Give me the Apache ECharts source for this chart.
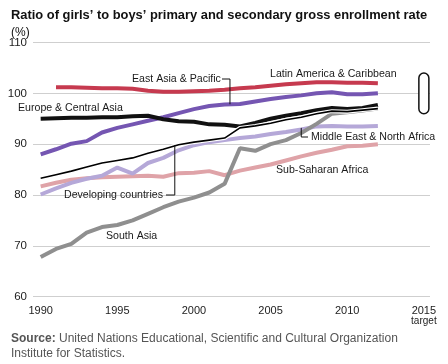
<!DOCTYPE html>
<html>
<head>
<meta charset="utf-8">
<script src="https://cdn.jsdelivr.net/npm/echarts@6/dist/echarts.min.js"></script>
<style>
html,body{margin:0;padding:0;background:#fff;}
#chart{width:448px;height:364px;}
</style>
</head>
<body>
<div id="chart"></div>
<script>
const years = [1990,1991,1992,1993,1994,1995,1996,1997,1998,1999,2000,2001,2002,2003,2004,2005,2006,2007,2008,2009,2010,2011,2012];
const latinAmerica = [null,101.2,101.2,101.1,101.0,101.0,100.9,100.5,100.3,100.3,100.4,100.5,100.7,101.0,101.2,101.5,101.8,102.0,102.2,102.2,102.1,102.1,102.0];
const eastAsia = [88.0,89.0,90.1,90.6,92.3,93.2,93.9,94.6,95.3,96.1,96.9,97.5,97.8,97.9,98.4,98.9,99.3,99.6,100.0,100.2,99.8,99.8,100.0];
const europe = [95.0,95.1,95.2,95.2,95.3,95.3,95.5,95.6,94.9,94.5,94.4,93.9,93.8,93.5,94.2,95.0,95.6,96.1,96.7,97.1,96.9,97.1,97.7];
const developing = [83.3,84.0,84.7,85.5,86.3,86.8,87.3,88.2,89.0,89.9,90.4,90.8,91.2,93.2,93.6,94.1,94.8,95.3,96.0,96.5,96.4,96.7,97.0];
const mena = [80.1,81.3,82.4,83.2,83.8,85.4,84.2,86.3,87.3,88.8,89.8,90.4,90.8,91.2,91.5,92.0,92.4,92.9,93.5,93.6,93.5,93.5,93.6];
const subSaharan = [81.7,82.4,83.0,83.3,83.5,83.6,83.7,83.8,83.6,84.3,84.4,84.7,83.9,84.8,85.4,86.0,86.8,87.6,88.3,88.9,89.6,89.7,90.0];
const southAsia = [67.8,69.4,70.4,72.6,73.7,74.1,75.0,76.3,77.6,78.7,79.5,80.5,82.2,89.2,88.7,90.0,90.8,92.2,94.0,96.0,96.3,96.6,97.0];
const xTicks = [1990,1995,2000,2005,2010,2015];
const yTicks = [60,70,80,90,100,110];
const targetYear = 2015;
const targetRange = [96, 104];

const pairs = arr => years.map((y,i) => [y, arr[i]]);
const chart = echarts.init(document.getElementById('chart'), null, {renderer:'canvas'});
const SANS = '"Liberation Sans", Arial, sans-serif';

function thick(name, data, color, z){
  return {name, type:'line', data:pairs(data), showSymbol:false, symbol:'none', connectNulls:false,
    lineStyle:{width:4, color}, itemStyle:{color}, z, animation:false};
}

const option = {
  animation:false,
  backgroundColor:'#fff',
  title:[
    {text:"Ratio of girls’ to boys’ primary and secondary gross enrollment rate", left:6, top:4,
      textStyle:{fontFamily:SANS, fontWeight:'bold', fontSize:12.9, color:'#111'}},
    {text:"(%)", left:6, top:22, textStyle:{fontFamily:SANS, fontWeight:'normal', fontSize:12, color:'#111'}},
    {text:"{b|Source:} United Nations Educational, Scientific and Cultural Organization\nInstitute for Statistics.",
      left:6, top:326, textStyle:{fontFamily:SANS, fontWeight:'normal', fontSize:12, color:'#555', lineHeight:15,
        rich:{b:{fontFamily:SANS, fontWeight:'bold', fontSize:12, color:'#555'}}}}
  ],
  grid:{left:33, right:18, top:42.5, bottom:67.3},
  xAxis:{type:'value', min:1989.5, max:2015.4,
    axisLine:{show:false}, axisTick:{show:false}, splitLine:{show:false},
    axisLabel:{customValues:xTicks, margin:9, fontFamily:SANS, fontSize:11, color:'#222', lineHeight:11,
      formatter: v => v === 2015 ? '2015\n{t|target}' : String(v),
      rich:{t:{fontFamily:SANS, fontSize:10, color:'#222', lineHeight:10}}}},
  yAxis:{type:'value', min:60, max:110, interval:10,
    axisLine:{show:false}, axisTick:{show:false},
    splitLine:{lineStyle:{color:'#cfcfcf', width:1}},
    axisLabel:{margin:6, fontFamily:SANS, fontSize:11.5, color:'#222',
      formatter: v => yTicks.includes(v) ? String(v) : ''}},
  series:[
    thick('Sub-Saharan Africa', subSaharan, '#dfa3a8', 2),
    thick('Middle East & North Africa', mena, '#b5a8d8', 3),
    thick('South Asia', southAsia, '#8f8f8f', 4),
    thick('Latin America & Caribbean', latinAmerica, '#c63a4f', 5),
    thick('East Asia & Pacific', eastAsia, '#7556b2', 6),
    thick('Europe & Central Asia', europe, '#111111', 7),
    {name:'dev-casing', type:'line', data:pairs(developing), showSymbol:false, symbol:'none',
      lineStyle:{width:4, color:'#ffffff'}, z:8, silent:true},
    {name:'Developing countries', type:'line', data:pairs(developing), showSymbol:false, symbol:'none',
      lineStyle:{width:1.6, color:'#000'}, z:9},
    {name:'target', type:'custom', clip:false, z:10,
      data:[[targetYear, targetRange[0], targetRange[1]]],
      renderItem:(params, api) => {
        const top = api.coord([api.value(0), api.value(2)]);
        const bot = api.coord([api.value(0), api.value(1)]);
        const w = 10;
        return {type:'rect', shape:{x:top[0]-w/2, y:top[1], width:w, height:bot[1]-top[1], r:w/2},
          style:{fill:'#fff', stroke:'#111', lineWidth:1.5}};
      }}
  ]
};
chart.setOption(option);

const P = (x,y) => chart.convertToPixel({gridIndex:0}, [x,y]);
const labelFont = '10.6px ' + SANS;
function label(text, x, y){
  return {type:'text', x, y, z:20, style:{text, font:labelFont, fill:'#1a1a1a', verticalAlign:'middle', align:'left'}};
}
const eap = P(2002.35, 97.85);
const dev = P(1998.75, 89.85);
const mn = P(2007.0, 93.2);
chart.setOption({graphic:[
  label('East Asia & Pacific', 132, 79),
  label('Latin America & Caribbean', 270, 74),
  label('Europe & Central Asia', 18, 108),
  label('Middle East & North Africa', 311, 137),
  label('Sub-Saharan Africa', 276, 170),
  label('Developing countries', 64, 195),
  label('South Asia', 106, 236),
  {type:'polyline', z:19, shape:{points:[[222,79],[eap[0],79],[eap[0],eap[1]]]}, style:{stroke:'#111', lineWidth:1, fill:null}},
  {type:'polyline', z:19, shape:{points:[[166,195],[dev[0],195],[dev[0],dev[1]]]}, style:{stroke:'#111', lineWidth:1, fill:null}},
  {type:'polyline', z:19, shape:{points:[[mn[0],mn[1]],[mn[0],137],[308,137]]}, style:{stroke:'#111', lineWidth:1, fill:null}}
]});
</script>
</body>
</html>
